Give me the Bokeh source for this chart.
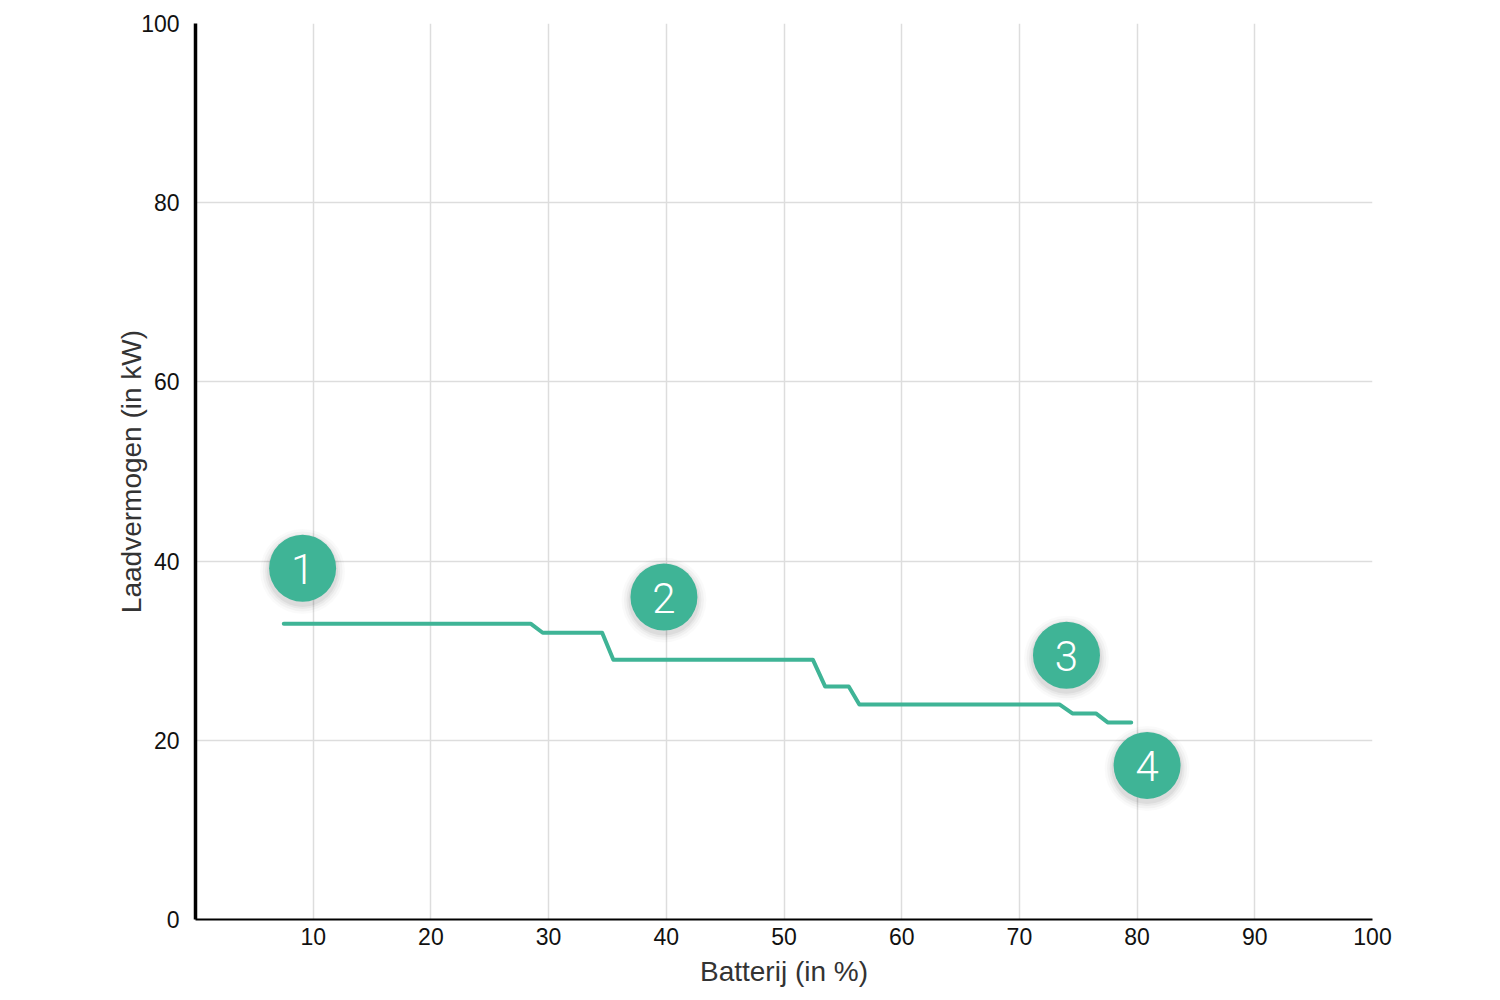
from bokeh.plotting import figure
from bokeh.models import ColumnDataSource, FixedTicker, Range1d
from bokeh.core.properties import value
from bokeh.embed import file_html
from bokeh.resources import INLINE

# Data
line_x = [7.5, 28.5, 29.5, 34.55, 35.5, 52.45, 53.5, 55.5, 56.4, 73.4, 74.5, 76.5, 77.5, 79.5]
line_y = [33, 33, 32, 32, 29, 29, 26, 26, 24, 24, 23, 23, 22, 22]
marker_x = [9.1, 39.8, 74.0, 80.85]
marker_y = [39.2, 36.0, 29.5, 17.2]
marker_labels = ["1", "2", "3", "4"]
x_ticks = [10, 20, 30, 40, 50, 60, 70, 80, 90, 100]
y_ticks = [0, 20, 40, 60, 80, 100]

TEAL = "#3fb496"

p = figure(width=1500, height=1000, output_backend="svg", toolbar_location=None,
           x_range=Range1d(0, 100), y_range=Range1d(0, 100),
           min_border_left=195, min_border_right=128, min_border_top=23, min_border_bottom=81)
p.outline_line_color = None
p.background_fill_color = "white"

# grid
p.xgrid.ticker = FixedTicker(ticks=x_ticks)
p.ygrid.ticker = FixedTicker(ticks=y_ticks)
p.xgrid.grid_line_color = "#dddddd"
p.ygrid.grid_line_color = "#dddddd"
p.xgrid.grid_line_width = 1.5
p.ygrid.grid_line_width = 1.5

# axes
p.xaxis.ticker = FixedTicker(ticks=x_ticks)
p.yaxis.ticker = FixedTicker(ticks=y_ticks)
for ax in (p.xaxis, p.yaxis):
    ax.major_tick_line_color = None
    ax.minor_tick_line_color = None
    ax.axis_line_color = "black"
    ax.major_label_text_font = "Liberation Sans"
    ax.major_label_text_font_size = "23px"
    ax.major_label_text_color = "#111111"
    ax.axis_label_text_font = "Liberation Sans"
    ax.axis_label_text_font_size = "28px"
    ax.axis_label_text_font_style = "normal"
    ax.axis_label_text_color = "#333333"
p.yaxis.axis_line_width = 3.5
p.xaxis.axis_line_width = 2
p.xaxis.axis_label = "Batterij (in %)"
p.yaxis.axis_label = "Laadvermogen (in kW)"
p.xaxis.major_label_standoff = 2
p.yaxis.major_label_standoff = 10
p.xaxis.axis_label_standoff = 8
p.yaxis.axis_label_standoff = -9

# line
p.line(line_x, line_y, line_color=TEAL, line_width=4, line_join="round", line_cap="round")

# markers with soft shadow
src = ColumnDataSource(dict(x=marker_x, y=marker_y, label=marker_labels,
                            ys=[v - 0.35 for v in marker_y]))
for extra, a in [(18, 0.02), (13, 0.03), (8, 0.04), (4, 0.05)]:
    p.scatter("x", "ys", source=src, size=67 + extra, fill_color="#000000",
              fill_alpha=a, line_color=None)
p.scatter("x", "y", source=src, size=67, fill_color=TEAL, line_color=None)
p.text("x", "y", text="label", source=src, text_align="center", text_baseline="middle",
       text_color="white", text_font=value("Roboto Light"), text_font_size="42px",
       y_offset=1)

open("out.html", "w").write(file_html(p, INLINE))
